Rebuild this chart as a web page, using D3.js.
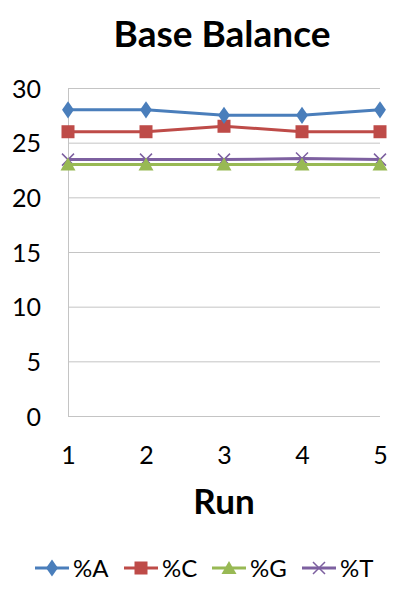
<!DOCTYPE html>
<html>
<head>
<meta charset="utf-8">
<script src="https://cdn.jsdelivr.net/npm/d3@7"></script>
<style>
body { margin: 0; background: #fff; }
text { font-family: Lato, "Open Sans", sans-serif; fill: #000; }
</style>
</head>
<body>
<main></main>
<script>
const runs = [1, 2, 3, 4, 5];
const pctA = [28, 28, 27.5, 27.5, 28];
const pctC = [26, 26, 26.5, 26, 26];
const pctG = [23, 23, 23, 23, 23];
const pctT = [23.45, 23.45, 23.45, 23.55, 23.45];
const yTicks = [0, 5, 10, 15, 20, 25, 30];
const seriesNames = ["%A", "%C", "%G", "%T"];

const w = 406, h = 600;
const padLeft = 68, padRight = 380, padTop = 88, padBottom = 416;

const series = [
	{name: seriesNames[0], values: pctA, color: "#4a7ebb", shape: "diamond"},
	{name: seriesNames[1], values: pctC, color: "#be4b48", shape: "square"},
	{name: seriesNames[2], values: pctG, color: "#98b954", shape: "triangle"},
	{name: seriesNames[3], values: pctT, color: "#7d60a0", shape: "cross"}
];

const svg = d3.select("main").append("svg")
	.attr("width", w)
	.attr("height", h);

const xScale = d3.scaleLinear().domain([1, 5]).range([padLeft, padRight]);
const yScale = d3.scaleLinear().domain([0, 30]).range([padBottom, padTop]);

// gridlines
svg.append("g")
	.selectAll("line")
	.data(yTicks)
	.enter()
	.append("line")
	.attr("x1", padLeft)
	.attr("x2", padRight)
	.attr("y1", d => yScale(d) + 0.5)
	.attr("y2", d => yScale(d) + 0.5)
	.attr("stroke", "#c4c4c4")
	.attr("stroke-width", 1);

svg.append("line")
	.attr("x1", padLeft + 0.5).attr("x2", padLeft + 0.5)
	.attr("y1", padTop).attr("y2", padBottom)
	.attr("stroke", "#c4c4c4");

const yAxis = d3.axisLeft(yScale).tickValues(yTicks).tickSize(0).tickPadding(27);
const yg = svg.append("g")
	.attr("transform", "translate(" + padLeft + ",0)")
	.call(yAxis);
yg.select(".domain").remove();
yg.attr("font-family", null).attr("font-size", null);
yg.selectAll("text").style("font-size", "25px").attr("dy", "0.36em");

const xAxis = d3.axisBottom(xScale).tickValues(runs).tickFormat(d3.format("d")).tickSize(0);
const xg = svg.append("g")
	.attr("transform", "translate(0," + padBottom + ")")
	.call(xAxis);
xg.select(".domain").remove();
xg.attr("font-family", null).attr("font-size", null);
xg.selectAll("text").style("font-size", "25px").attr("y", 48).attr("dy", 0);

const line = d3.line()
	.x((d, i) => xScale(runs[i]))
	.y(d => yScale(d));

function marker(g, shape, color, x, y) {
	if (shape === "diamond") {
		g.append("path").attr("d", d3.symbol(d3.symbolDiamond, 85)())
			.attr("transform", "translate(" + x + "," + y + ") scale(1.2,1)")
			.attr("fill", color);
	} else if (shape === "square") {
		g.append("rect").attr("x", x - 6.5).attr("y", y - 6.5)
			.attr("width", 13).attr("height", 13).attr("fill", color);
	} else if (shape === "triangle") {
		g.append("path").attr("d", "M" + x + "," + (y - 7) + "L" + (x + 7.5) + "," + (y + 6) + "L" + (x - 7.5) + "," + (y + 6) + "Z")
			.attr("fill", color);
	} else {
		g.append("path").attr("d", "M" + (x - 6) + "," + (y - 6) + "L" + (x + 6) + "," + (y + 6) + "M" + (x - 6) + "," + (y + 6) + "L" + (x + 6) + "," + (y - 6))
			.attr("stroke", color).attr("stroke-width", 1.5).attr("fill", "none");
	}
}

// draw back to front so %A ends on top
series.slice().reverse().forEach(s => {
	const g = svg.append("g");
	g.append("path")
		.datum(s.values)
		.attr("d", line)
		.attr("fill", "none")
		.attr("stroke", s.color)
		.attr("stroke-width", 3);
	s.values.forEach((v, i) => marker(g, s.shape, s.color, xScale(runs[i]), yScale(v)));
});

svg.append("text")
	.attr("x", 222)
	.attr("y", 47)
	.attr("text-anchor", "middle")
	.style("font-size", "37px")
	.style("font-weight", "bold")
	.text("Base Balance");

svg.append("text")
	.attr("x", 224)
	.attr("y", 514)
	.attr("text-anchor", "middle")
	.style("font-size", "35px")
	.style("font-weight", "bold")
	.text("Run");

// legend
const legendX = [35, 124, 212, 302];
series.forEach((s, i) => {
	const g = svg.append("g");
	const x0 = legendX[i], y0 = 568;
	g.append("line")
		.attr("x1", x0).attr("x2", x0 + 34)
		.attr("y1", y0).attr("y2", y0)
		.attr("stroke", s.color).attr("stroke-width", 3);
	marker(g, s.shape, s.color, x0 + 17, y0);
	g.append("text")
		.attr("x", x0 + 38)
		.attr("y", 577)
		.style("font-size", "24px")
		.text(s.name);
});
</script>
</body>
</html>
